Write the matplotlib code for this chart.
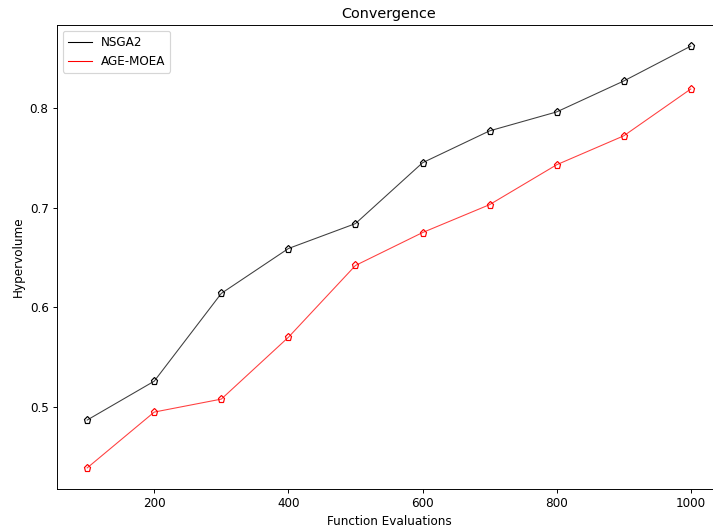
import numpy as np
import matplotlib
matplotlib.use('Agg')
import matplotlib.pyplot as plt

# 数据
evals = [100, 200, 300, 400, 500, 600, 700, 800, 900, 1000]
hv_nsga2 = [0.487, 0.526, 0.614, 0.659, 0.684, 0.745, 0.777, 0.796, 0.827, 0.862]
hv_agemoea = [0.439, 0.495, 0.508, 0.570, 0.642, 0.675, 0.703, 0.743, 0.772, 0.819]

DPI = 86
fig = plt.figure(figsize=(713 / DPI, 529 / DPI), dpi=DPI)
ax = fig.add_axes([57 / 713, 40 / 529, 664 / 713, 464 / 529])

ax.plot(evals, hv_nsga2, color='black', lw=0.9, alpha=0.75, label='NSGA2')
ax.plot(evals, hv_agemoea, color='red', lw=0.9, alpha=0.75, label='AGE-MOEA')
ax.plot(evals, hv_nsga2, 'p', color='black', mfc='none', ms=6, mew=1.0)
ax.plot(evals, hv_agemoea, 'p', color='red', mfc='none', ms=6, mew=1.0)

ax.set_title('Convergence')
ax.set_xlabel('Function Evaluations')
ax.set_ylabel('Hypervolume')
ax.set_yticks([0.5, 0.6, 0.7, 0.8])

leg = ax.legend(loc='upper left')
for line in leg.get_lines():
    line.set_alpha(1.0)

fig.savefig('out.png', dpi=DPI)
